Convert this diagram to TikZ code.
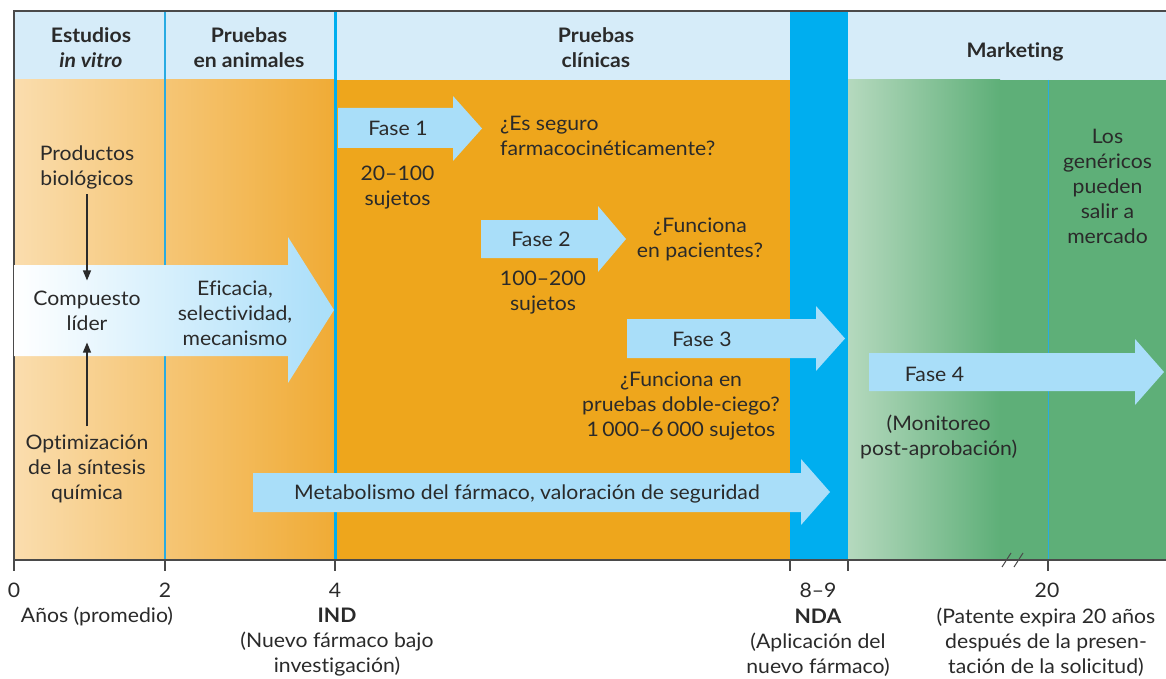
\documentclass[tikz,border=0pt]{standalone}
\usepackage{fontspec}
\setmainfont{Lato}[Ligatures={NoCommon}, FakeStretch=1.06]
\usetikzlibrary{arrows.meta}
\definecolor{hdr}{HTML}{D6ECF9}
\definecolor{orng}{HTML}{EEA61C}
\definecolor{peach}{HTML}{FADDAE}
\definecolor{orngtwo}{HTML}{F0AB35}
\definecolor{bband}{HTML}{00AEEF}
\definecolor{grn}{HTML}{5EAF78}
\definecolor{lgrn}{HTML}{B5D9BE}
\definecolor{arr}{HTML}{A9DEF9}
\definecolor{txt}{HTML}{2A2A2A}
\definecolor{axiscol}{HTML}{4A4A4A}
\definecolor{vline}{HTML}{29ABE2}
\begin{document}
\begin{tikzpicture}[x=1pt,y=-1pt,
  every node/.style={text=txt, font=\fontsize{20}{25}\selectfont, inner sep=0pt, align=center},
  hdrtext/.style={font=\fontsize{20}{25}\selectfont\bfseries},
  phasearrow/.style={fill=arr},
  blk/.style={draw=txt, line width=1.2pt, -{Triangle[length=10pt,width=8pt]}},
  axisline/.style={draw=axiscol, line width=1.2pt},
  tick/.style={draw=axiscol, line width=1.2pt}
]
\useasboundingbox (0,0) rectangle (1166,679);
\fill[white] (0,0) rectangle (1166,679);
% header and bands
\fill[hdr] (14,11) rectangle (1166,80);
\shade[left color=peach, right color=orngtwo] (14,80) rectangle (335,560);
\fill[orng] (335,80) rectangle (790,560);
\fill[bband] (790,11) rectangle (848,560);
\shade[left color=lgrn, right color=grn] (848,80) rectangle (1000,560);
\fill[grn] (999.5,80) rectangle (1166,560);
\draw[vline, line width=1.3pt] (165,11) -- (165,560);
\draw[bband, line width=3pt] (335,11) -- (335,560);
\draw[vline, line width=1pt] (1048,80) -- (1048,560);
% frame and axis
\draw[axisline] (14,560) -- (14,11) -- (1166,11);
\draw[axisline] (14,560) -- (1166,560);
\foreach \x in {14,165,335,790,848,1048} \draw[tick] (\x,560) -- (\x,571);
\draw[axiscol, line width=1pt] (1002,567) -- (1011,553);
\draw[axiscol, line width=1pt] (1014,567) -- (1023,553);
% header texts
\node[hdrtext] (h1) at (91,48) {Estudios\\\textit{in vitro}};
\node[hdrtext] (h2) at (249,48) {Pruebas\\en animales};
\node[hdrtext] (h3) at (596,48) {Pruebas\\clínicas};
\node[hdrtext, anchor=base] (h4) at (1015,58) {Marketing};
% arrows
\shade[left color=white, right color=arr] (14,265) -- (288,265) -- (288,237) -- (334,310) -- (288,383) -- (288,356) -- (14,356) -- cycle;
\fill[phasearrow] (338,108) -- (453,108) -- (453,96) -- (482,128.5) -- (453,161) -- (453,148) -- (338,148) -- cycle;
\fill[phasearrow] (481,220) -- (598,220) -- (598,206) -- (626,239) -- (598,272) -- (598,258) -- (481,258) -- cycle;
\fill[phasearrow] (627,319) -- (816,319) -- (816,306) -- (845,338.5) -- (816,371) -- (816,358) -- (627,358) -- cycle;
\fill[phasearrow] (869,353) -- (1135,353) -- (1135,339) -- (1164,372) -- (1135,405) -- (1135,391) -- (869,391) -- cycle;
\fill[phasearrow] (253,473) -- (801,473) -- (801,459) -- (830,492) -- (801,525) -- (801,512) -- (253,512) -- cycle;
% left column
\node (prod) at (87,167.5) {Productos\\biológicos};
\node (comp) at (87,310.5) {Compuesto\\líder};
\node (opt) at (87,468.5) {Optimización\\de la síntesis\\química};
\draw[blk, shorten <=5pt, shorten >=10pt] (prod.south) -- (comp.north);
\draw[blk, shorten <=8pt, shorten >=12pt] (opt.north) -- (comp.south);
\node (efi) at (235,313) {Eficacia,\\selectividad,\\mecanismo};
% phases
\node[anchor=base] (f1) at (398,136) {Fase 1};
\node[anchor=west, align=left] (q1) at (500,135.5) {¿Es seguro\\farmacocinéticamente?};
\node (s1) at (397.5,188) {20–100\\sujetos};
\node[anchor=base] (f2) at (541,246) {Fase 2};
\node (q2) at (700,239.5) {¿Funciona\\en pacientes?};
\node (s2) at (543,293) {100–200\\sujetos};
\node[anchor=base] (f3) at (702,346) {Fase 3};
\node (q3) at (681,406) {¿Funciona en\\pruebas doble-ciego?\\1\,000–6\,000 sujetos};
\node[anchor=base] (f4) at (934.5,381) {Fase 4};
\node (q4) at (938.7,436.5) {(Monitoreo\\post-aprobación)};
\node[anchor=base] (met) at (527,499) {Metabolismo del fármaco, valoración de seguridad};
\node (gen) at (1107.5,186.5) {Los\\genéricos\\pueden\\salir a\\mercado};
% axis labels
\node[anchor=base] (t0) at (14,597) {0};
\node[anchor=base] (t2) at (165,597) {2};
\node[anchor=base] (t4) at (335,597) {4};
\node[anchor=base] (t89) at (818,597) {8–9};
\node[anchor=base] (t20) at (1047,597) {20};
\node[anchor=base] (anos) at (97,622) {Años (promedio)};
\node (ind) at (337,642.5) {\textbf{IND}\\(Nuevo fármaco bajo\\investigación)};
\node (nda) at (818,642.5) {\textbf{NDA}\\(Aplicación del\\nuevo fármaco)};
\node (pat) at (1046,642.5) {(Patente expira 20 años\\después de la presen-\\tación de la solicitud)};
\end{tikzpicture}
\end{document}
